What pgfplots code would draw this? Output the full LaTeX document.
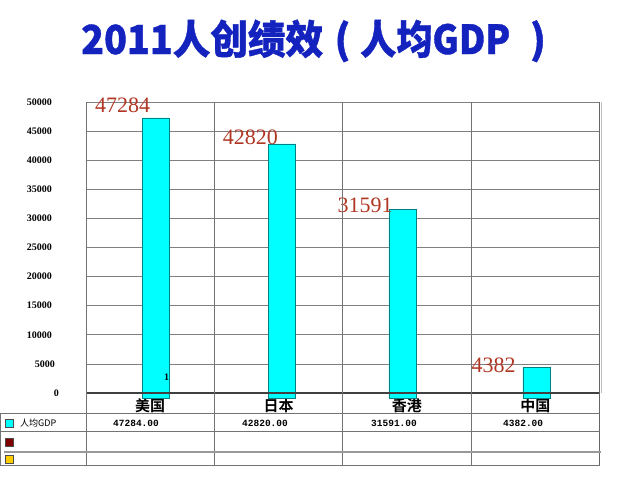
\documentclass[border=0pt]{standalone}
\usepackage{fontspec}
\usepackage{graphicx}
\usepackage{pgfplots}
\usepackage{pgfplotstable}
\pgfplotsset{compat=1.18}
\setmainfont{Liberation Serif}
\newfontfamily\cjk{Noto Sans CJK SC}
\newfontfamily\cjkb{Noto Sans CJK SC Bold}
\newfontfamily\cjkt{Noto Sans CJK SC Bold}[FakeBold=1]
\newfontfamily\mono{Liberation Mono}
\definecolor{titleblue}{RGB}{20,35,190}
\definecolor{vallab}{RGB}{175,55,35}
\definecolor{barcyan}{RGB}{0,255,255}
\definecolor{bardraw}{RGB}{0,128,128}
\definecolor{gridgray}{RGB}{128,128,128}
\definecolor{darkred}{RGB}{128,0,0}
\definecolor{gold}{RGB}{255,204,0}
% x: bar position, y: per-capita GDP, dx/dy: label offsets (pt)
\pgfplotstableread{
x      y      dx     dy
1.043  47284  -5.5   5.8
2.027  42820  -4.0  -1.2
2.965  31591  -9.5  -3.0
4.008  4382   -20.5 -4.5
}\gdpdata
\pgfplotstableread{
x      y
1.043  -900
2.027  -900
2.965  -900
4.008  -900
}\overhang
\begin{document}
\begin{tikzpicture}[x=1pt,y=1pt]
\useasboundingbox (0,0) rectangle (640,-488);
% title
\begin{scope}[every node/.style={font=\cjkt\bfseries\fontsize{40}{40}\selectfont, text=titleblue, inner sep=0pt}]
\node[anchor=base west] at (81,-54) {\resizebox{242pt}{\height}{2011人创绩效}};
\node[anchor=base] at (342.5,-54) {(};
\node[anchor=base west] at (360,-54) {\resizebox{150pt}{\height}{人均GDP}};
\node[anchor=base] at (538,-54) {)};
\end{scope}
\begin{axis}[at={(86pt,-393pt)}, anchor=south west, scale only axis,
  width=513.5pt, height=291pt,
  xmin=0.5, xmax=4.5, ymin=0, ymax=50000, clip=false,
  xtick={1,2,3,4}, xticklabels={美国,日本,香港,中国}, major tick length=0pt,
  xticklabel style={font=\cjkb\fontsize{15}{15}\selectfont, anchor=center, yshift=-13pt},
  ytick={0,5000,...,50000}, scaled y ticks=false,
  yticklabels={0\hspace*{-10pt},5000\hspace*{-3pt},10000,15000,20000,25000,30000,35000,40000,45000,50000},
  ymajorgrids, grid style={gridgray, line width=0.8pt},
  yticklabel style={font=\bfseries\fontsize{10}{10}\selectfont, anchor=east, inner sep=0pt, xshift=-34pt},
  /pgf/number format/assume math mode=true, /pgf/number format/1000 sep={},
  axis line style={draw=none},
  ybar, bar width=27pt]
\addplot[ybar, bar shift=0pt, fill=barcyan, draw=bardraw,
  nodes near coords,
  visualization depends on={\thisrow{dx} \as \ldx},
  visualization depends on={\thisrow{dy} \as \ldy},
  nodes near coords style={font=\fontsize{22}{22}\selectfont, text=vallab, anchor=base east, inner sep=0pt, xshift=\ldx pt, yshift=\ldy pt}]
  table[x=x, y=y] {\gdpdata};
\addplot[ybar, bar shift=0pt, fill=barcyan, draw=bardraw]
  table[x=x, y=y] {\overhang};
\draw[black!75, line width=1.3pt] (axis cs:0.5,0) -- (axis cs:4.5,0);
\end{axis}
\node[font=\bfseries\fontsize{10}{10}\selectfont, inner sep=0pt] at (166.5,-377) {1};
% frame and table lines
\foreach \xx in {86,214.4,342.8,471.1} {\draw[black!55, line width=0.8pt] (\xx,-102) -- (\xx,-465.5);}
\draw[black!60, line width=0.9pt] (599.5,-102) -- (599.5,-465.5);
\draw[black!25, line width=1.6pt] (601.5,-102) -- (601.5,-393);
\draw[black!55, line width=0.8pt] (0,-413.5) -- (599.5,-413.5);
\draw[black!55, line width=0.8pt] (0,-431.5) -- (599.5,-431.5);
\draw[black!40, line width=1.2pt] (4,-452) -- (601,-452);
\draw[black!55, line width=0.8pt] (0,-465.5) -- (599.5,-465.5);
\draw[black!55, line width=0.8pt] (0.4,-413.5) -- (0.4,-465.5);
% legend keys
\draw[black!70, fill=barcyan] (5,-419.5) rectangle (13.5,-427.5);
\draw[black!70, fill=darkred] (5,-438) rectangle (13.5,-446);
\draw[black!70, fill=gold] (5,-455.5) rectangle (13.5,-463);
\node[font=\cjk\fontsize{9}{9}\selectfont, anchor=west, inner sep=0pt] at (20,-423.5) {人均GDP};
\foreach \xx/\tt in {113/47284.00, 242/42820.00, 371/31591.00, 503/4382.00}
  {\node[font=\mono\bfseries\fontsize{9.5}{9.5}\selectfont, anchor=west, inner sep=0pt] at (\xx,-423) {\tt};}
\end{tikzpicture}
\end{document}
